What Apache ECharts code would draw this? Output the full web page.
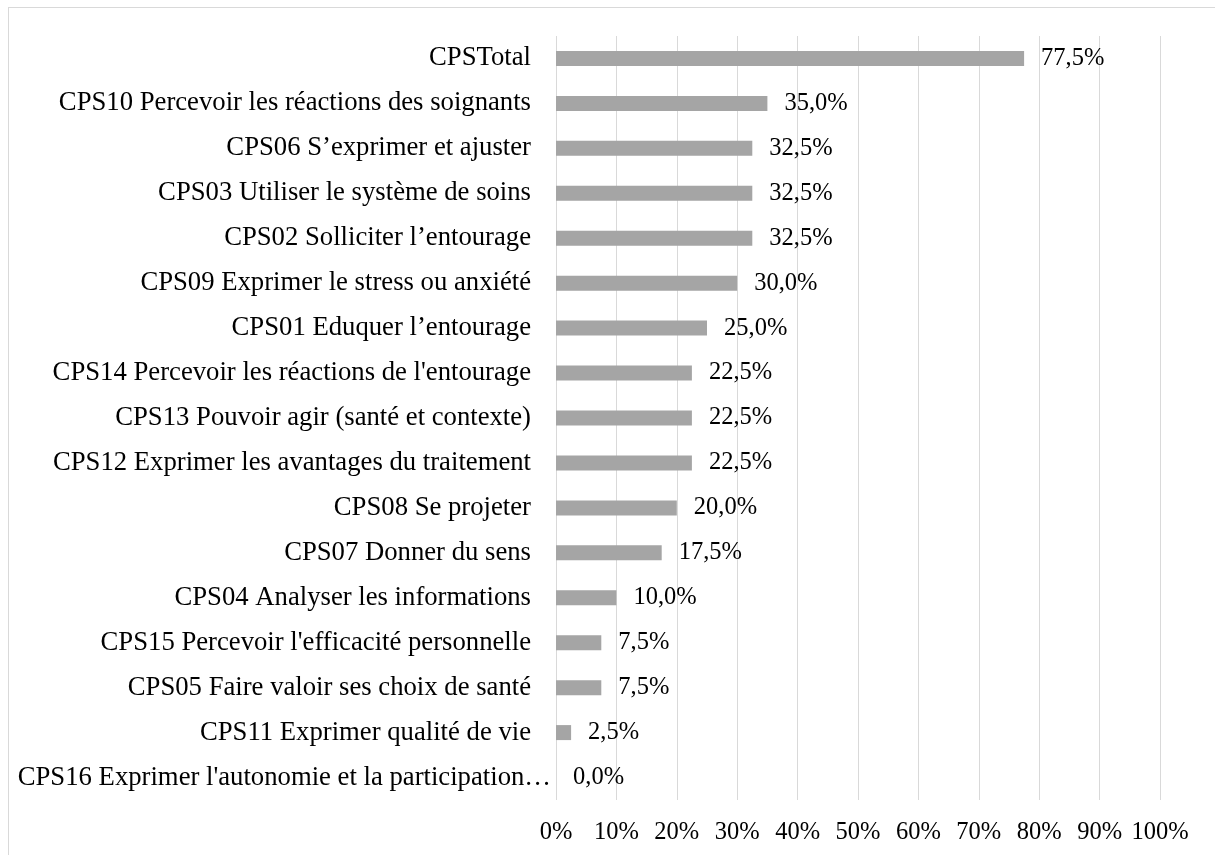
<!DOCTYPE html>
<html>
<head>
<meta charset="utf-8">
<script src="https://cdn.jsdelivr.net/npm/echarts@6/dist/echarts.min.js"></script>
<style>
  html, body { margin: 0; padding: 0; background: #fff; }
  #frame { position: absolute; left: 8px; top: 7px; width: 1215px; height: 855px; border: 1px solid #d9d9d9; box-sizing: border-box; }
  #chart { position: absolute; left: 0; top: 0; width: 1215px; height: 855px; }
</style>
</head>
<body>
<div id="frame"></div>
<div id="chart"></div>
<script>
const categories = [
  "CPSTotal",
  "CPS10 Percevoir les réactions des soignants",
  "CPS06 S\u2019exprimer et ajuster",
  "CPS03 Utiliser le système de soins",
  "CPS02 Solliciter l\u2019entourage",
  "CPS09 Exprimer le stress ou anxiété",
  "CPS01 Eduquer l\u2019entourage",
  "CPS14 Percevoir les réactions de l'entourage",
  "CPS13 Pouvoir agir (santé et contexte)",
  "CPS12 Exprimer les avantages du traitement",
  "CPS08 Se projeter",
  "CPS07 Donner du sens",
  "CPS04 Analyser les informations",
  "CPS15 Percevoir l'efficacité personnelle",
  "CPS05 Faire valoir ses choix de santé",
  "CPS11 Exprimer qualité de vie",
  "CPS16 Exprimer l'autonomie et la participation\u2026"
];
const values = [77.5, 35.0, 32.5, 32.5, 32.5, 30.0, 25.0, 22.5, 22.5, 22.5, 20.0, 17.5, 10.0, 7.5, 7.5, 2.5, 0.0];

const FONT = "'Liberation Serif', 'Times New Roman', serif";
const FS_CAT = 26.7;
const FS_NUM = 24.5;
const chart = echarts.init(document.getElementById('chart'), null, { renderer: 'canvas' });
chart.setOption({
  animation: false,
  grid: { left: 556, right: 55, top: 36, bottom: 55, containLabel: false },
  xAxis: {
    type: 'value', min: 0, max: 100, interval: 10,
    axisLine: { show: false }, axisTick: { show: false },
    splitLine: { show: true, lineStyle: { color: '#d9d9d9', width: 1 } },
    axisLabel: { formatter: '{value}%', color: '#000', fontFamily: FONT, fontSize: FS_NUM, margin: 20 }
  },
  yAxis: {
    type: 'category', data: categories, inverse: true,
    axisLine: { show: false }, axisTick: { show: false },
    axisLabel: {
      color: '#000', fontFamily: FONT, fontSize: FS_CAT, margin: 25,
      formatter: (v) => v.endsWith('\u2026') ? '{t|' + v + '}' : v,
      rich: { t: { fontFamily: FONT, fontSize: FS_CAT, color: '#000', padding: [0, -20, 0, 0] } }
    }
  },
  series: [{
    type: 'bar', data: values, barWidth: 15,
    itemStyle: { color: '#a5a5a5' },
    label: {
      show: true, position: 'right', distance: 17,
      color: '#000', fontFamily: FONT, fontSize: FS_NUM,
      formatter: p => p.value.toFixed(1).replace('.', ',') + '%'
    }
  }]
});
</script>
</body>
</html>
